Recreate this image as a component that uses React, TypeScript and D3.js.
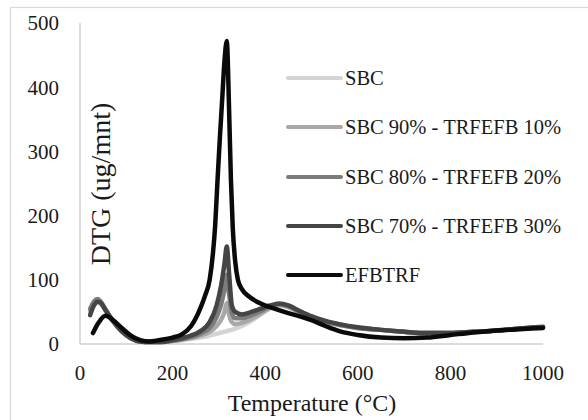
import React from "react";
import * as d3 from "d3";

const seriesNames = [
  "SBC",
  "SBC 90% - TRFEFB 10%",
  "SBC 80% - TRFEFB 20%",
  "SBC 70% - TRFEFB 30%",
  "EFBTRF",
];
const seriesColors = ["#d4d4d4", "#a8a8a8", "#7c7c7c", "#454545", "#0a0a0a"];

const xTicks = [0, 200, 400, 600, 800, 1000];
const yTicks = [0, 100, 200, 300, 400, 500];

// temperature grid for the blend series
const tempGray = [22, 30, 38, 45, 55, 70, 90, 110, 130, 150, 175, 200, 230, 260, 280, 295, 305, 312, 317, 322, 328, 335, 350, 370, 390, 410, 430, 450, 470, 500, 530, 560, 600, 650, 700, 750, 800, 850, 900, 950, 1000];

const sbc =    [48, 60, 64, 62, 52, 36, 19, 9, 4, 3, 3, 4, 7, 10, 13, 16, 18, 19, 20, 21, 22, 24, 28, 36, 46, 55, 60, 57, 50, 41, 34, 29, 25, 22, 19, 17, 17, 19, 21, 24, 26];
const sbc90 =  [52, 64, 68, 64, 53, 37, 20, 9, 4, 3, 3, 5, 8, 13, 19, 28, 38, 50, 64, 46, 34, 31, 33, 39, 47, 56, 61, 58, 51, 42, 35, 30, 25, 22, 19, 17, 17, 19, 21, 24, 26];
const sbc80 =  [55, 66, 70, 66, 54, 37, 20, 9, 4, 3, 3, 5, 9, 16, 25, 42, 62, 85, 108, 78, 48, 40, 40, 45, 51, 58, 62, 59, 52, 43, 35, 30, 25, 22, 19, 17, 17, 19, 21, 24, 26];
const sbc70 =  [45, 60, 66, 64, 53, 37, 20, 9, 4, 3, 3, 6, 11, 20, 34, 60, 92, 125, 152, 110, 60, 50, 46, 50, 55, 60, 63, 60, 53, 43, 36, 31, 26, 22, 19, 17, 17, 19, 21, 24, 27];

const tempBlack = [28, 40, 55, 70, 90, 110, 130, 150, 170, 200, 220, 240, 250, 260, 270, 280, 287, 292, 297, 302, 307, 312, 317, 322, 326, 330, 335, 341, 350, 365, 390, 420, 450, 480, 500, 530, 560, 600, 650, 700, 750, 800, 850, 900, 950, 1000];
const efbtrf =    [17, 33, 44, 38, 25, 13, 6, 4, 6, 10, 15, 28, 40, 56, 75, 100, 140, 185, 255, 320, 380, 440, 472, 365, 255, 180, 130, 100, 85, 74, 63, 55, 48, 42, 37, 28, 20, 14, 10, 9, 10, 14, 18, 21, 23, 25];

const allSeries = [
  { temps: tempGray, values: sbc },
  { temps: tempGray, values: sbc90 },
  { temps: tempGray, values: sbc80 },
  { temps: tempGray, values: sbc70 },
  { temps: tempBlack, values: efbtrf },
];

export default function App() {
  const W = 588, H = 420;
  const x = d3.scaleLinear().domain([0, 1000]).range([80, 543]);
  const y = d3.scaleLinear().domain([0, 500]).range([344, 23]);
  const font = "Liberation Serif";
  const line = d3
    .line<[number, number]>()
    .x((d) => x(d[0]))
    .y((d) => y(d[1]))
    .curve(d3.curveMonotoneX);

  const legendY = [78, 127, 177, 226, 275];

  return (
    <svg width={W} height={H} style={{ position: "absolute", left: 0, top: 0, background: "#fff", fontFamily: font }}>
      <rect x={10.5} y={7.5} width={700} height={500} fill="#fff" stroke="#d9d9d9" strokeWidth={1.2} />
      <line x1={x(0)} x2={x(0)} y1={y(500)} y2={y(0)} stroke="#d0d0d0" strokeWidth={1.5} />
      <line x1={x(0)} x2={x(1000)} y1={y(0)} y2={y(0)} stroke="#d0d0d0" strokeWidth={1.5} />
      {yTicks.map((t) => (
        <text key={"y" + t} x={59} y={y(t)} dy="0.35em" textAnchor="end" fontFamily={font} fontSize={21} fill="#1a1a1a">
          {t}
        </text>
      ))}
      {xTicks.map((t) => (
        <text key={"x" + t} x={x(t)} y={380} textAnchor="middle" fontFamily={font} fontSize={21} fill="#1a1a1a">
          {t}
        </text>
      ))}
      <text x={312} y={411} textAnchor="middle" fontFamily={font} fontSize={24} fill="#1a1a1a">
        Temperature (°C)
      </text>
      <text
        transform={`translate(110,184) rotate(-90)`}
        textAnchor="middle"
        fontFamily={font}
        fontSize={28}
        fill="#1a1a1a"
      >
        DTG (ug/mnt)
      </text>
      {allSeries.map((s, i) => (
        <path
          key={"s" + i}
          d={line(s.temps.map((t, j) => [t, s.values[j]] as [number, number])) || ""}
          fill="none"
          stroke={seriesColors[i]}
          strokeWidth={4.5}
          strokeLinejoin="round"
          strokeLinecap="round"
        />
      ))}
      {seriesNames.map((n, i) => (
        <g key={"l" + i}>
          <line x1={288} x2={341} y1={legendY[i]} y2={legendY[i]} stroke={seriesColors[i]} strokeWidth={4} strokeLinecap="round" />
          <text x={345} y={legendY[i]} dy="0.33em" fontFamily={font} fontSize={20.5} fill="#1a1a1a">
            {n}
          </text>
        </g>
      ))}
    </svg>
  );
}
